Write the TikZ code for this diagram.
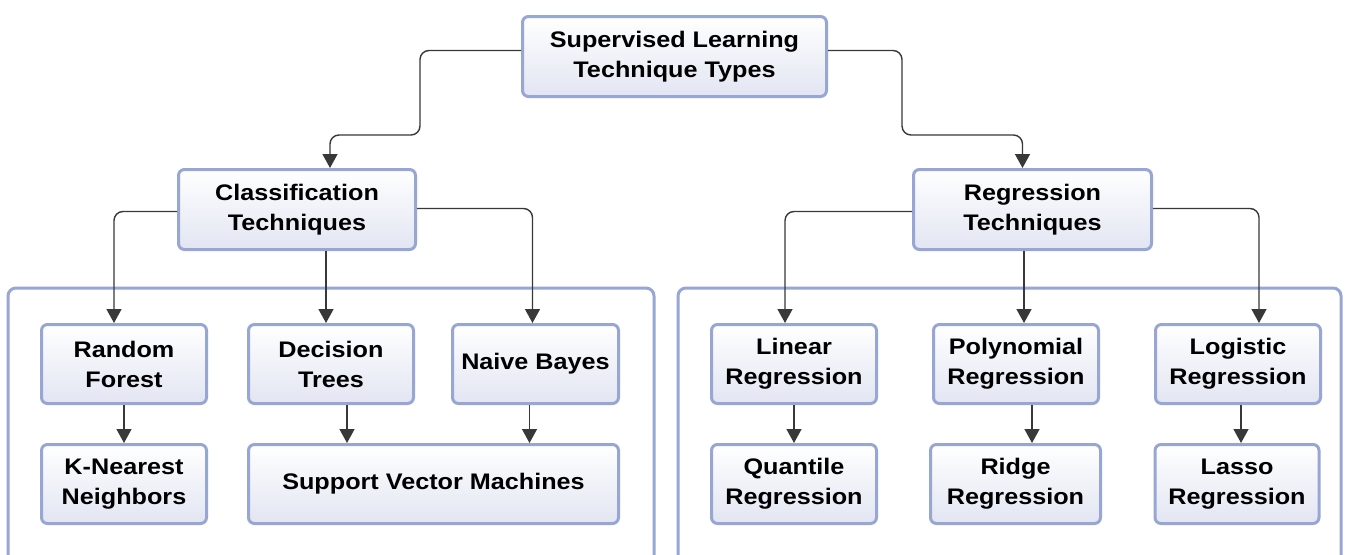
\documentclass[tikz,border=0pt]{standalone}
\usepackage{fontspec}
\setmainfont{Liberation Sans}[FakeStretch=1.12]
\usetikzlibrary{arrows.meta}
\definecolor{boxline}{HTML}{98A6D4}
\definecolor{boxfill}{HTML}{E2E5F2}
\definecolor{linkcol}{HTML}{383838}
\begin{document}
\begin{tikzpicture}[x=1pt,y=-1pt,
    box/.style={draw=boxline,line width=3pt,rounded corners=6pt,top color=white,bottom color=boxfill,
      align=center,inner sep=0pt,font=\fontsize{22.5}{30}\selectfont\bfseries},
    group/.style={draw=boxline,line width=3pt,rounded corners=8pt},
    link/.style={draw=linkcol,line width=1.4pt,rounded corners=9pt,-{Triangle[width=15pt,length=14pt]}}]
    \clip[use as bounding box] (0,0) rectangle (1348,554);
    \fill[white] (0,0) rectangle (1348,554);
    %group frames
    \draw [group] (8,288) rectangle (654,620);
    \draw [group] (678,288) rectangle (1341,620);
    %top
    \node [box,minimum width=304,minimum height=80] (sup) at (674.5,56.5) {Supervised Learning\\Technique Types};
    \node [box,minimum width=237,minimum height=80] (cls) at (297,209.5) {Classification\\Techniques};
    \node [box,minimum width=238,minimum height=80] (reg) at (1032.5,209.5) {Regression\\Techniques};
    %classification
    \node [box,minimum width=165,minimum height=79] (rf) at (124,364) {Random\\Forest};
    \node [box,minimum width=165,minimum height=79] (dt) at (331,364) {Decision\\Trees};
    \node [box,minimum width=166,minimum height=79] (nb) at (535.5,364) {Naive Bayes};
    \node [box,minimum width=165,minimum height=79] (knn) at (124,484) {K-Nearest\\Neighbors};
    \node [box,minimum width=370,minimum height=79] (svm) at (433.5,484) {Support Vector Machines};
    %regression
    \node [box,minimum width=165,minimum height=79] (lin) at (794,364) {Linear\\Regression};
    \node [box,minimum width=165,minimum height=79] (poly) at (1016,364) {Polynomial\\Regression};
    \node [box,minimum width=165,minimum height=79] (logi) at (1238,364) {Logistic\\Regression};
    \node [box,minimum width=165,minimum height=79] (quan) at (794,484) {Quantile\\Regression};
    \node [box,minimum width=170,minimum height=79] (ridge) at (1015.5,484) {Ridge\\Regression};
    \node [box,minimum width=164,minimum height=79] (lasso) at (1237,484) {Lasso\\Regression};
    %links from the root
    \coordinate (lk) at (420,135);
    \coordinate (rk) at (902,135);
    \draw [link] ([yshift=6pt]sup.west) -| (lk) -| ([xshift=33pt]cls.north);
    \draw [link] ([yshift=6pt]sup.east) -| (rk) -| ([xshift=-10pt]reg.north);
    %links below
    \draw [link] ([yshift=-2pt]cls.west) -| ([xshift=-10pt]rf.north);
    \draw [link] ([xshift=-5pt]dt.north |- cls.south) -- ([xshift=-5pt]dt.north);
    \draw [link] ([yshift=1pt]cls.east) -| ([xshift=-3pt]nb.north);
    \draw [link] ([yshift=-2pt]reg.west) -| ([xshift=-9pt]lin.north);
    \draw [link] ([xshift=8pt]poly.north |- reg.south) -- ([xshift=8pt]poly.north);
    \draw [link] ([yshift=1pt]reg.east) -| ([xshift=21pt]logi.north);
    \draw [link] (rf) -- (knn);
    \draw [link] ([xshift=16pt]dt.south) -- ([xshift=16pt]dt.south |- svm.north);
    \draw [link] ([xshift=-6pt]nb.south) -- ([xshift=-6pt]nb.south |- svm.north);
    \draw [link] (lin) -- (quan);
    \draw [link] ([xshift=16pt]poly.south) -- ([xshift=16pt]poly.south |- ridge.north);
    \draw [link] ([xshift=3pt]logi.south) -- ([xshift=3pt]logi.south |- lasso.north);
\end{tikzpicture}
\end{document}
